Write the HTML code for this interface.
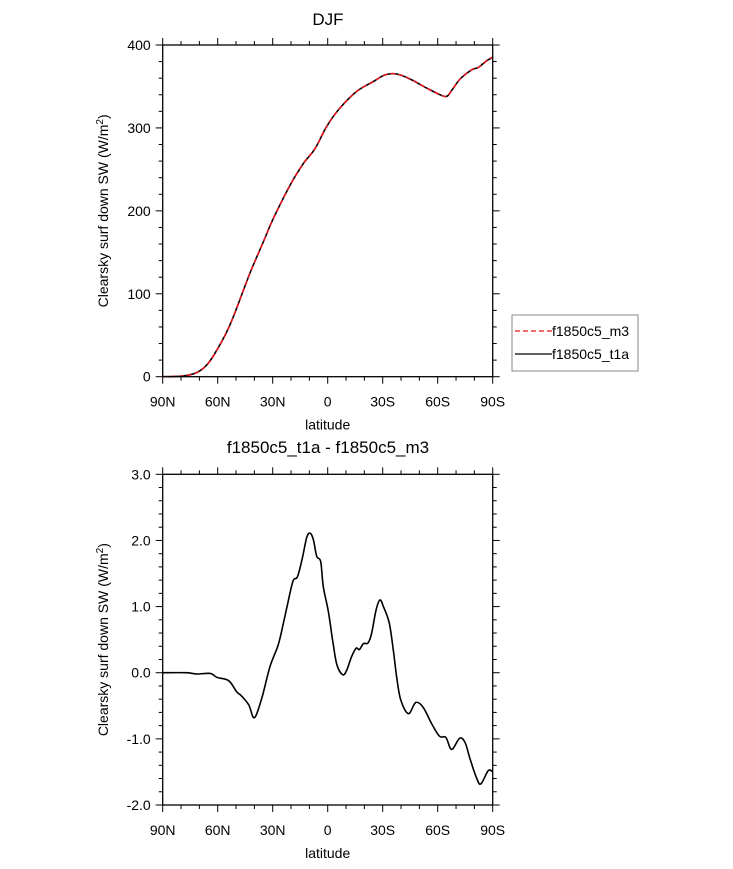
<!DOCTYPE html>
<html><head><meta charset="utf-8"><style>
body{margin:0;background:#fff}
svg{display:block;font-family:"Liberation Sans",sans-serif}
</style></head><body>
<svg id="fig" width="733" height="869" viewBox="0 0 733 869">
<text x="328" y="25" font-size="17" text-anchor="middle">DJF</text>
<text x="328" y="453" font-size="17" text-anchor="middle">f1850c5_t1a - f1850c5_m3</text>
<g>
<rect x="512" y="315" width="126" height="56" fill="#fff" stroke="#888" stroke-width="1"/>
<line x1="515" y1="331" x2="552" y2="331" stroke="#e8141e" stroke-width="1.3" stroke-dasharray="5,3"/>
<text x="552" y="336" font-size="14">f1850c5_m3</text>
<line x1="515" y1="354" x2="552" y2="354" stroke="#000" stroke-width="1.3"/>
<text x="552" y="359" font-size="14">f1850c5_t1a</text>
</g>
</svg>
<script>
// latitude in degrees, negative = north, positive = south
const topLat = [-90,-78.7,-71.5,-66,-60.5,-53,-42.4,-35,-29.6,-20.5,-13.3,-6.9,-0.5,6.7,15.8,24.9,31.3,37.6,44.9,54,61.3,64.9,67.6,72.2,78.5,82.2,86.7,90];
const topT1a = [0,1,5,14,32,64,125,163,191,231,257,275,302,324,344,356,364,365,359,348,340,338,345,359,370,373,381,385];
const topM3 = [0,1,5,14,32,64,125,163,191,231,257,275,302,324,344,356,364,365,359,348,340,338,345,359,370,373,381,385.5];
const diffLat = [-90,-77,-71.5,-64,-60.5,-54,-49.6,-47,-43,-40,-36,-31.5,-27,-24,-22.4,-19,-16.5,-14,-11.5,-9.6,-7.8,-6,-3.8,-2.4,0.4,2.7,5,8.2,10.4,13,15.5,17.3,19.5,22,24,26.4,28.5,30.4,33.6,35.8,37.6,39.8,44,48,52,56.7,61,64.5,67.6,72,75,77.6,81.3,83.6,87.6,90];
const diffVal = [0,0,-0.02,-0.01,-0.07,-0.12,-0.29,-0.35,-0.49,-0.68,-0.39,0.09,0.42,0.77,0.97,1.38,1.45,1.71,2.04,2.11,2.01,1.76,1.68,1.30,0.92,0.49,0.12,-0.03,0.04,0.24,0.37,0.35,0.44,0.45,0.60,0.95,1.10,1.0,0.75,0.34,-0.06,-0.41,-0.62,-0.45,-0.52,-0.77,-0.96,-0.98,-1.16,-0.99,-1.06,-1.30,-1.60,-1.68,-1.48,-1.50];
const xTickVals = [-90,-60,-30,0,30,60,90];
const xTickLabels = ["90N","60N","30N","0","30S","60S","90S"];
const topYTicks = [0,100,200,300,400];
const topYLabels = ["0","100","200","300","400"];
const botYTicks = [-2,-1,0,1,2,3];
const botYLabels = ["-2.0","-1.0","0.0","1.0","2.0","3.0"];

const NS="http://www.w3.org/2000/svg";
const svg=document.getElementById('fig');
function mk(t,a,p){const e=document.createElementNS(NS,t);for(const k in a)e.setAttribute(k,a[k]);(p||svg).appendChild(e);return e;}
const L=162.7,R=492.7;
const xs=v=>L+(v+90)/180*(R-L);

function panel(name,T,B,ymin,ymax,yTicks,yLabels,minorStep){
  const g=mk('g',{});
  
  
  const ys=v=>B-(v-ymin)/(ymax-ymin)*(B-T);
  for(let v=-90;v<=90;v+=10){
    const maj=xTickVals.includes(v);const len=maj?7:4;
    let t=mk('line',{x1:xs(v),x2:xs(v),y1:B,y2:B+len,stroke:'#000','stroke-width':1},g);
    
    
    t=mk('line',{x1:xs(v),x2:xs(v),y1:T,y2:T-len,stroke:'#000','stroke-width':1},g);
    
    
  }
  const n=Math.round((ymax-ymin)/minorStep);
  for(let i=0;i<=n;i++){
    const v=ymin+i*minorStep;
    const maj=yTicks.some(t=>Math.abs(t-v)<1e-6);const len=maj?7:4;
    let t=mk('line',{x1:L,x2:L-len,y1:ys(v),y2:ys(v),stroke:'#000','stroke-width':1},g);
    
    
    t=mk('line',{x1:R,x2:R+len,y1:ys(v),y2:ys(v),stroke:'#000','stroke-width':1},g);
    
    
  }
  xTickVals.forEach((v,i)=>{
    const t=mk('text',{x:xs(v),y:B+30,'font-size':14,'text-anchor':'middle'},g);
    t.textContent=xTickLabels[i];
    
    
  });
  yTicks.forEach((v,i)=>{
    const t=mk('text',{x:L-12,y:ys(v)+5,'font-size':14,'text-anchor':'end'},g);
    t.textContent=yLabels[i];
    
    
  });
  const xt=mk('text',{x:(L+R)/2,y:B+53,'font-size':14,'text-anchor':'middle'},g);
  xt.textContent='latitude';
  
  
  const cy=(T+B)/2;
  const yt=mk('text',{x:108,y:cy,'font-size':14,'text-anchor':'middle',transform:`rotate(-90 108 ${cy})`},g);
  yt.innerHTML='Clearsky surf down SW (W/m<tspan dy="-5" font-size="10">2</tspan><tspan dy="5">)</tspan>';
  
  
  return {g,ys,T,B};
}
function line(p,lat,val,color,dash,name){
  const P=lat.map((v,i)=>[xs(v),p.ys(val[i])]);
  let d='M'+P[0][0].toFixed(1)+','+P[0][1].toFixed(1);
  for(let i=0;i<P.length-1;i++){
    const p0=P[Math.max(0,i-1)],p1=P[i],p2=P[i+1],p3=P[Math.min(P.length-1,i+2)];
    const c1=[p1[0]+(p2[0]-p0[0])/6,p1[1]+(p2[1]-p0[1])/6];
    const c2=[p2[0]-(p3[0]-p1[0])/6,p2[1]-(p3[1]-p1[1])/6];
    d+=' C'+c1[0].toFixed(1)+','+c1[1].toFixed(1)+' '+c2[0].toFixed(1)+','+c2[1].toFixed(1)+' '+p2[0].toFixed(1)+','+p2[1].toFixed(1);
  }
  const a={d:d,fill:'none',stroke:color,'stroke-width':1.6,'stroke-linejoin':'round'};
  if(dash)a['stroke-dasharray']=dash;
  const e=mk('path',a,p.g);
  
  
}
function frame(p){
  const r=mk('rect',{x:L,y:p.T,width:R-L,height:p.B-p.T,fill:'none',stroke:'#000','stroke-width':1.3},p.g);
  
  
}
const topPanel=panel('top-panel',45,376.7,0,400,topYTicks,topYLabels,20);
line(topPanel,topLat,topT1a,'#000',null,'series-t1a');
line(topPanel,topLat,topM3,'#e8141e','5,3','series-m3');
frame(topPanel);
const botPanel=panel('bottom-panel',474.3,805,-2,3,botYTicks,botYLabels,0.2);
line(botPanel,diffLat,diffVal,'#000',null,'series-difference');
frame(botPanel);
</script>
</body></html>
